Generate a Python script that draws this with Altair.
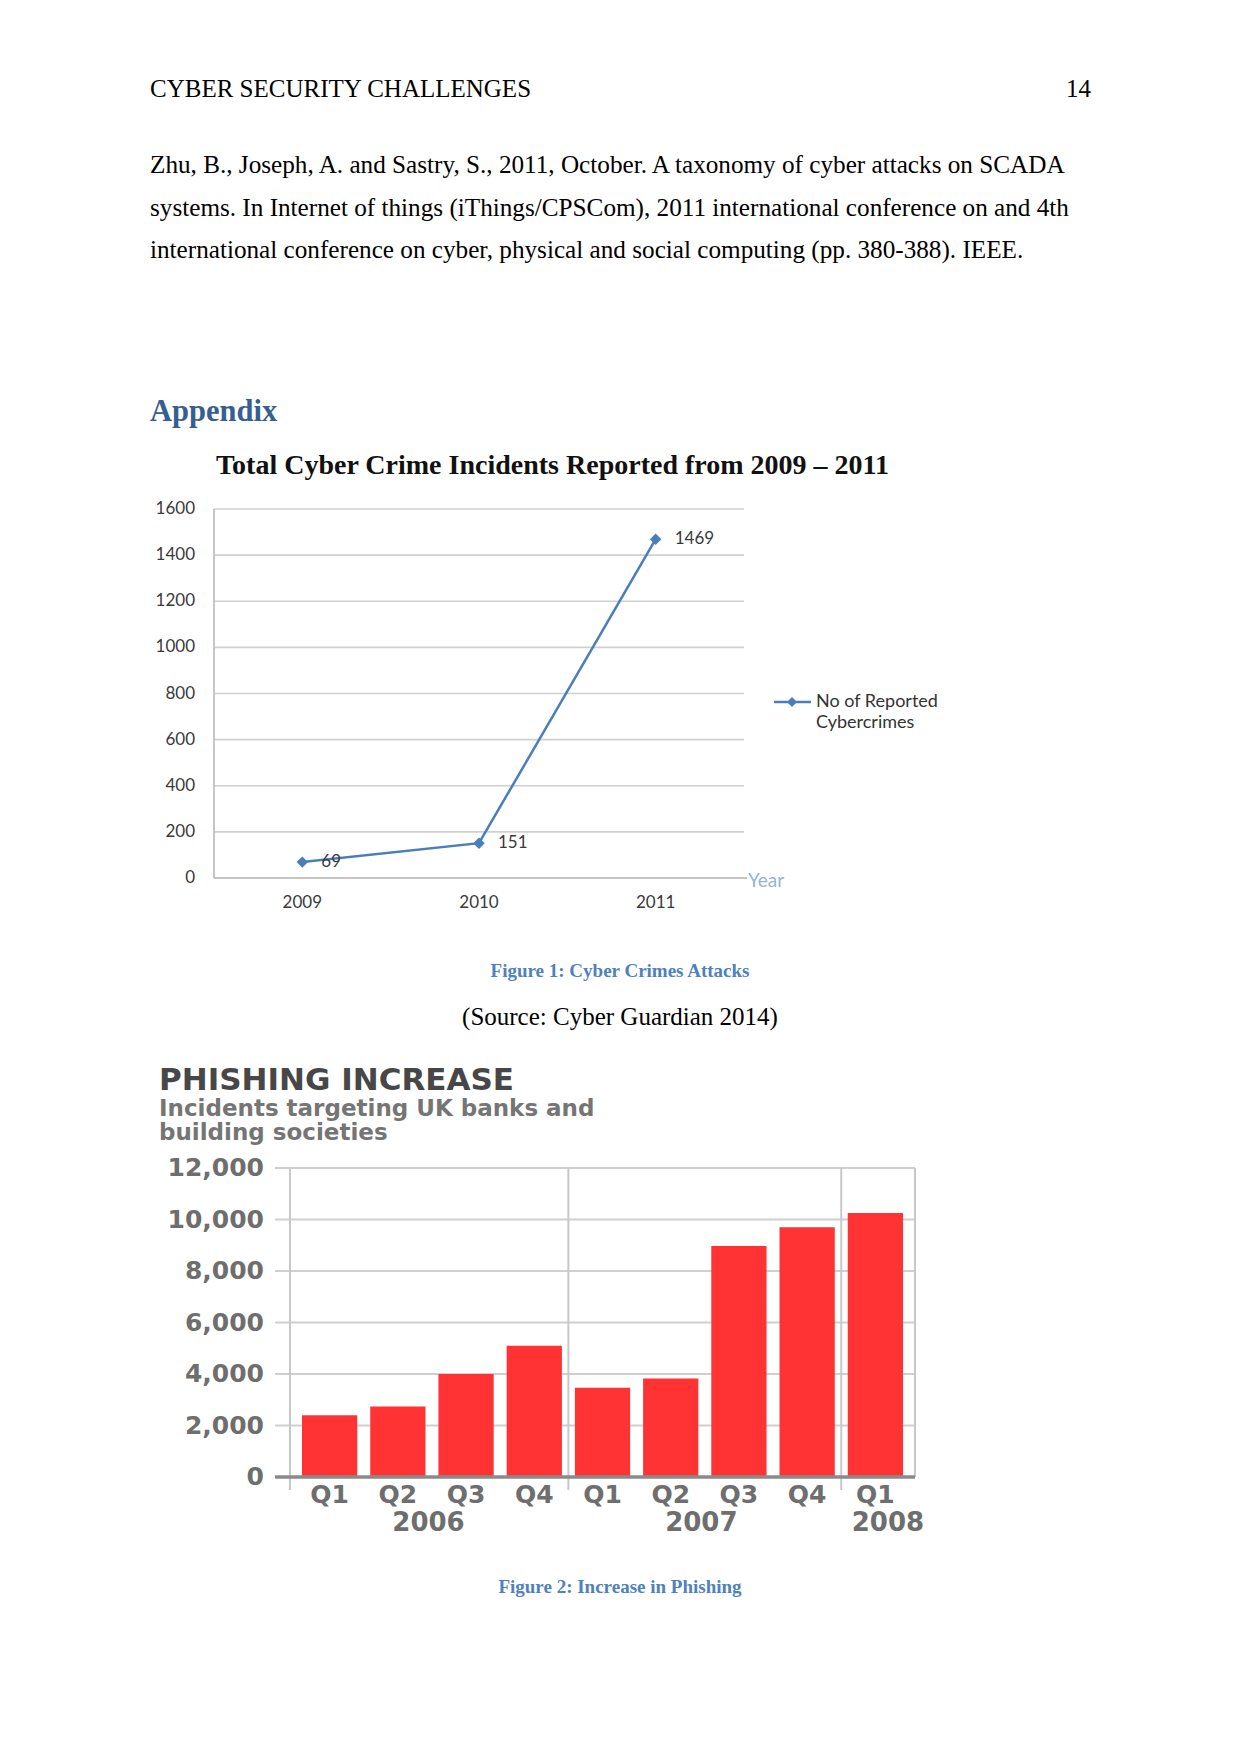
import altair as alt
import pandas as pd

# ---------------- data ----------------
header_left = "CYBER SECURITY CHALLENGES"
page_number = "14"
reference_lines = [
    "Zhu, B., Joseph, A. and Sastry, S., 2011, October. A taxonomy of cyber attacks on SCADA",
    "systems. In Internet of things (iThings/CPSCom), 2011 international conference on and 4th",
    "international conference on cyber, physical and social computing (pp. 380-388). IEEE.",
]
appendix_heading = "Appendix"

line_title = "Total Cyber Crime Incidents Reported from 2009 \u2013 2011"
line_years = ["2009", "2010", "2011"]
line_values = [69, 151, 1469]
line_ticks = [0, 200, 400, 600, 800, 1000, 1200, 1400, 1600]
line_legend = ["No of Reported", "Cybercrimes"]
line_axis_title = "Year"
fig1_caption = "Figure 1: Cyber Crimes Attacks"
fig1_source = "(Source: Cyber Guardian 2014)"

bar_title = "PHISHING INCREASE"
bar_subtitle = ["Incidents targeting UK banks and", "building societies"]
bar_quarters = ["Q1", "Q2", "Q3", "Q4", "Q1", "Q2", "Q3", "Q4", "Q1"]
bar_years = ["2006", "2006", "2006", "2006", "2007", "2007", "2007", "2007", "2008"]
bar_values = [2400, 2740, 4000, 5100, 3470, 3830, 8970, 9700, 10250]
bar_ticks = [0, 2000, 4000, 6000, 8000, 10000, 12000]
fig2_caption = "Figure 2: Increase in Phishing"

# ---------------- helpers (page coords -> chart coords) ----------------
M = 8
def X(v):
    return v - M
def Y(v):
    return v - M

def txt(s, x, y, size, font="Liberation Serif", weight="normal", color="#000000",
        align="left", baseline="alphabetic", line_height=None):
    kw = dict(text=s, font=font, fontSize=size, fontWeight=weight,
              color=color, align=align, baseline=baseline)
    if line_height is not None:
        kw["lineHeight"] = line_height
    return alt.Chart().mark_text(**kw).encode(x=alt.value(X(x)), y=alt.value(Y(y)))

def hrule(x1, x2, y, color, w):
    return alt.Chart().mark_rule(color=color, strokeWidth=w).encode(
        x=alt.value(X(x1)), x2=alt.value(X(x2)), y=alt.value(Y(y)))

def vrule(x, y1, y2, color, w):
    return alt.Chart().mark_rule(color=color, strokeWidth=w).encode(
        x=alt.value(X(x)), y=alt.value(Y(y1)), y2=alt.value(Y(y2)))

layers = []

# ---------------- page text ----------------
layers.append(txt(header_left, 150, 97, 25))
layers.append(txt(page_number, 1091, 97, 25, align="right"))
for line, bl in zip(reference_lines, [173, 216, 258]):
    layers.append(txt(line, 150, bl, 25.2))
layers.append(txt(appendix_heading, 150, 421, 30.5, weight="bold", color="#365F91"))

# ---------------- line chart ----------------
L_LEFT, L_RIGHT, L_TOP, L_BOT = 214, 744, 509, 878
lx = alt.Scale(type="point", domain=line_years, range=[X(L_LEFT), X(L_RIGHT)], padding=0.5)
ly = alt.Scale(domain=[0, 1600], range=[Y(L_BOT), Y(L_TOP)], nice=False, zero=True)
TXT = "#3A3A3A"

layers.append(txt(line_title, 216, 474, 28, weight="bold", color="#111111"))

ltick_df = pd.DataFrame({"v": line_ticks})
layers.append(alt.Chart(ltick_df).transform_filter("datum.v > 0").mark_rule(
    color="#D0D0D0", strokeWidth=1.7).encode(
    y=alt.Y("v:Q", scale=ly, axis=None), x=alt.value(X(L_LEFT)), x2=alt.value(X(L_RIGHT))))
layers.append(alt.Chart(ltick_df).mark_text(
    font="Lato", fontSize=17, color=TXT, align="right", baseline="middle").encode(
    y=alt.Y("v:Q", scale=ly, axis=None), x=alt.value(X(195)), text=alt.Text("v:Q")))
layers.append(vrule(L_LEFT, L_TOP, L_BOT, "#BDBDBD", 1.7))
layers.append(hrule(L_LEFT, 747, L_BOT, "#B0B0B0", 1.7))
layers.append(txt(line_axis_title, 748, 881, 19, font="Lato", color="#95B3D7", baseline="middle"))

line_df = pd.DataFrame({"year": line_years, "n": line_values})
layers.append(alt.Chart(line_df).mark_text(
    font="Lato", fontSize=17, color=TXT, baseline="middle").encode(
    x=alt.X("year:N", scale=lx, axis=None), y=alt.value(Y(903)), text="year:N"))
layers.append(alt.Chart(line_df).mark_line(color="#4A7EBB", strokeWidth=2.5).encode(
    x=alt.X("year:N", scale=lx, axis=None), y=alt.Y("n:Q", scale=ly, axis=None)))
layers.append(alt.Chart(line_df).mark_point(
    shape="diamond", filled=True, size=130, color="#4A7EBB", opacity=1).encode(
    x=alt.X("year:N", scale=lx, axis=None), y=alt.Y("n:Q", scale=ly, axis=None)))
layers.append(alt.Chart(line_df).mark_text(
    font="Lato", fontSize=17, color=TXT, align="left", baseline="middle", dx=19).encode(
    x=alt.X("year:N", scale=lx, axis=None), y=alt.Y("n:Q", scale=ly, axis=None),
    text=alt.Text("n:Q")))

# legend
layers.append(hrule(774, 811, 702, "#4A7EBB", 2.5))
layers.append(alt.Chart().mark_point(shape="diamond", filled=True, size=100,
                                     color="#4A7EBB", opacity=1).encode(
    x=alt.value(X(792)), y=alt.value(Y(702))))
layers.append(txt(line_legend, 816, 702, 18, font="Lato", color="#333333",
                  baseline="middle", line_height=21))

layers.append(txt(fig1_caption, 620, 977, 19, weight="bold", color="#4F81BD", align="center"))
layers.append(txt(fig1_source, 620, 1025, 25, align="center"))

# ---------------- bar chart ----------------
B_LEFT, B_RIGHT, B_TOP, B_BOT = 290, 915, 1168, 1477
cats = [y + " " + q for y, q in zip(bar_years, bar_quarters)]
bx = alt.Scale(type="band", domain=cats, range=[X(B_LEFT), X(B_RIGHT)],
               paddingInner=0.19, paddingOuter=0.176)
by_ = alt.Scale(domain=[0, 12000], range=[Y(B_BOT), Y(B_TOP)], nice=False, zero=True)
GR = "#6E6E6E"

layers.append(txt(bar_title, 159, 1090, 31, font="DejaVu Sans", weight="bold", color="#474747"))
layers.append(txt(bar_subtitle[0], 159, 1116, 23, font="DejaVu Sans", weight="bold",
                  color="#757575"))
layers.append(txt(bar_subtitle[1], 159, 1140, 23, font="DejaVu Sans", weight="bold",
                  color="#757575"))

btick_df = pd.DataFrame({"v": bar_ticks})
layers.append(alt.Chart(btick_df).transform_filter("datum.v > 0").mark_rule(
    color="#CFCFCF", strokeWidth=1.8).encode(
    y=alt.Y("v:Q", scale=by_, axis=None), x=alt.value(X(275)), x2=alt.value(X(B_RIGHT))))
layers.append(alt.Chart(btick_df).mark_text(
    font="DejaVu Sans", fontSize=25, fontWeight="bold", color=GR, align="right",
    baseline="middle").encode(
    y=alt.Y("v:Q", scale=by_, axis=None), x=alt.value(X(264)), text=alt.Text("v:Q", format=",")))

# frame and year dividers
layers.append(vrule(B_LEFT, B_TOP, 1490, "#C8C8C8", 2))
layers.append(vrule(B_RIGHT, B_TOP, B_BOT, "#C8C8C8", 2))
div_df = pd.DataFrame({"c": [cats[4], cats[8]]})
layers.append(alt.Chart(div_df).mark_rule(color="#C8C8C8", strokeWidth=2, xOffset=-6.5).encode(
    x=alt.X("c:N", scale=bx, axis=None, bandPosition=0),
    y=alt.value(Y(B_TOP)), y2=alt.value(Y(1490))))

bar_df = pd.DataFrame({"c": cats, "q": bar_quarters, "yr": bar_years, "v": bar_values})
layers.append(alt.Chart(bar_df).mark_bar(color="#FF3333").encode(
    x=alt.X("c:N", scale=bx, axis=None), y=alt.Y("v:Q", scale=by_, axis=None)))
layers.append(hrule(275, B_RIGHT, B_BOT, "#8A8A8A", 3.5))

layers.append(alt.Chart(bar_df).mark_text(
    font="DejaVu Sans", fontSize=25, fontWeight="bold", color=GR, baseline="middle").encode(
    x=alt.X("c:N", scale=bx, axis=None), y=alt.value(Y(1495)), text="q:N"))

yl_df = pd.DataFrame({"c": [cats[1], cats[5]], "yr": [bar_years[1], bar_years[5]]})
layers.append(alt.Chart(yl_df).mark_text(
    font="DejaVu Sans", fontSize=26, fontWeight="bold", color=GR, baseline="middle",
    xOffset=3).encode(
    x=alt.X("c:N", scale=bx, axis=None, bandPosition=1), y=alt.value(Y(1523)), text="yr:N"))
yl2_df = pd.DataFrame({"c": [cats[8]], "yr": [bar_years[8]]})
layers.append(alt.Chart(yl2_df).mark_text(
    font="DejaVu Sans", fontSize=26, fontWeight="bold", color=GR, baseline="middle",
    align="left", xOffset=4).encode(
    x=alt.X("c:N", scale=bx, axis=None, bandPosition=0), y=alt.value(Y(1523)), text="yr:N"))

layers.append(txt(fig2_caption, 620, 1593, 19, weight="bold", color="#4F81BD", align="center"))

chart = alt.layer(*layers, data=pd.DataFrame({"k": [0]})).resolve_scale(
    x="independent", y="independent").properties(
    width=1225, height=1738, padding=0,
    autosize=alt.AutoSizeParams(type="none")).configure_view(stroke=None)

chart.save("out.html", embed_options={"renderer": "svg", "actions": False})
